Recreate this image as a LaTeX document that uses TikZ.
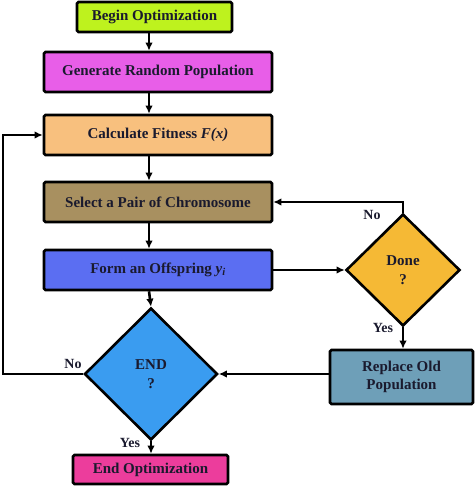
\documentclass[tikz,border=0pt]{standalone}
\usepackage{fontspec}
\setmainfont{Liberation Serif}
\usetikzlibrary{shapes.geometric,arrows.meta}
\definecolor{cbegin}{HTML}{BEF21E}
\definecolor{cgen}{HTML}{E85EE8}
\definecolor{ccalc}{HTML}{F8C07E}
\definecolor{csel}{HTML}{A89060}
\definecolor{coff}{HTML}{5B6EF2}
\definecolor{cend}{HTML}{3A9CF0}
\definecolor{cdone}{HTML}{F5B935}
\definecolor{crep}{HTML}{6E9FB8}
\definecolor{cfin}{HTML}{EC3D9C}
\definecolor{ctext}{HTML}{1A1A2E}
\tikzset{
  box/.style={draw=black, line width=2.6pt, rounded corners=1.5pt, minimum width=228pt, minimum height=40pt, inner sep=0pt, text=ctext, font=\bfseries\fontsize{15}{17}\selectfont},
  dia/.style={draw=black, line width=2.6pt, diamond, inner sep=0pt, align=center, text=ctext, font=\bfseries\fontsize{15}{19}\selectfont},
  arr/.style={line width=2.6pt, -{Latex[length=8pt,width=7.5pt]}},
  lbl/.style={font=\bfseries\fontsize{14}{15}\selectfont, inner sep=0pt, text=ctext}
}
\begin{document}
\begin{tikzpicture}[x=1pt,y=-1pt]
\useasboundingbox (0,0) rectangle (474,486);
\coordinate (col) at (149,0);
\coordinate (loopx) at (3,0);
\node[box, fill=cbegin, minimum width=155pt, minimum height=30pt] (begin) at (154.5,17) {Begin Optimization};
\node[box, fill=cgen] (gen) at (158,72) {Generate Random Population};
\node[box, fill=ccalc] (calc) at (158,135) {Calculate Fitness \textit{F(x)}\hspace{12pt}};
\node[box, fill=csel] (sel) at (158,202) {Select a Pair of Chromosome\hspace{6pt}};
\node[box, fill=coff] (off) at (158,270) {Form an Offspring \textit{y\textsubscript{i}}\hspace{14pt}};
\node[dia, fill=cend, minimum width=133pt, minimum height=132pt] (endq) at (151,374) {END\\?};
\node[dia, fill=cdone, minimum width=114pt, minimum height=112pt] (done) at (403,270) {Done\\?};
\node[box, fill=crep, minimum width=143pt, minimum height=54pt, align=center, font=\bfseries\fontsize{15}{18}\selectfont] (rep) at (401.5,377) {Replace Old\\Population};
\node[box, fill=cfin, minimum width=155pt, minimum height=29pt] (fin) at (150.5,469.5) {End Optimization};

\draw[arr] (begin.south -| col) -- (gen.north -| col);
\draw[arr] (gen.south -| col) -- (calc.north -| col);
\draw[arr] (calc.south -| col) -- (sel.north -| col);
\draw[arr] (sel.south -| col) -- (off.north -| col);
\draw[arr] (off.south -| col) -- (endq.north);
\draw[arr] (off.east) -- (done.west);
\draw[arr] (done.north) |- (sel.east);
\draw[arr] (done.south) -- (rep.north -| done.south);
\draw[arr] (rep.west |- endq.east) -- (endq.east);
\draw[arr] (endq.west) -| (loopx |- calc.west) -- (calc.west);
\draw[arr] (endq.south) -- (fin.north -| endq.south);

\node[lbl] (nodone) at (372,215) {No};
\node[lbl] (yesdone) at (383,328) {Yes};
\node[lbl] (noend) at (73,364) {No};
\node[lbl] (yesend) at (130,443) {Yes};
\end{tikzpicture}
\end{document}
